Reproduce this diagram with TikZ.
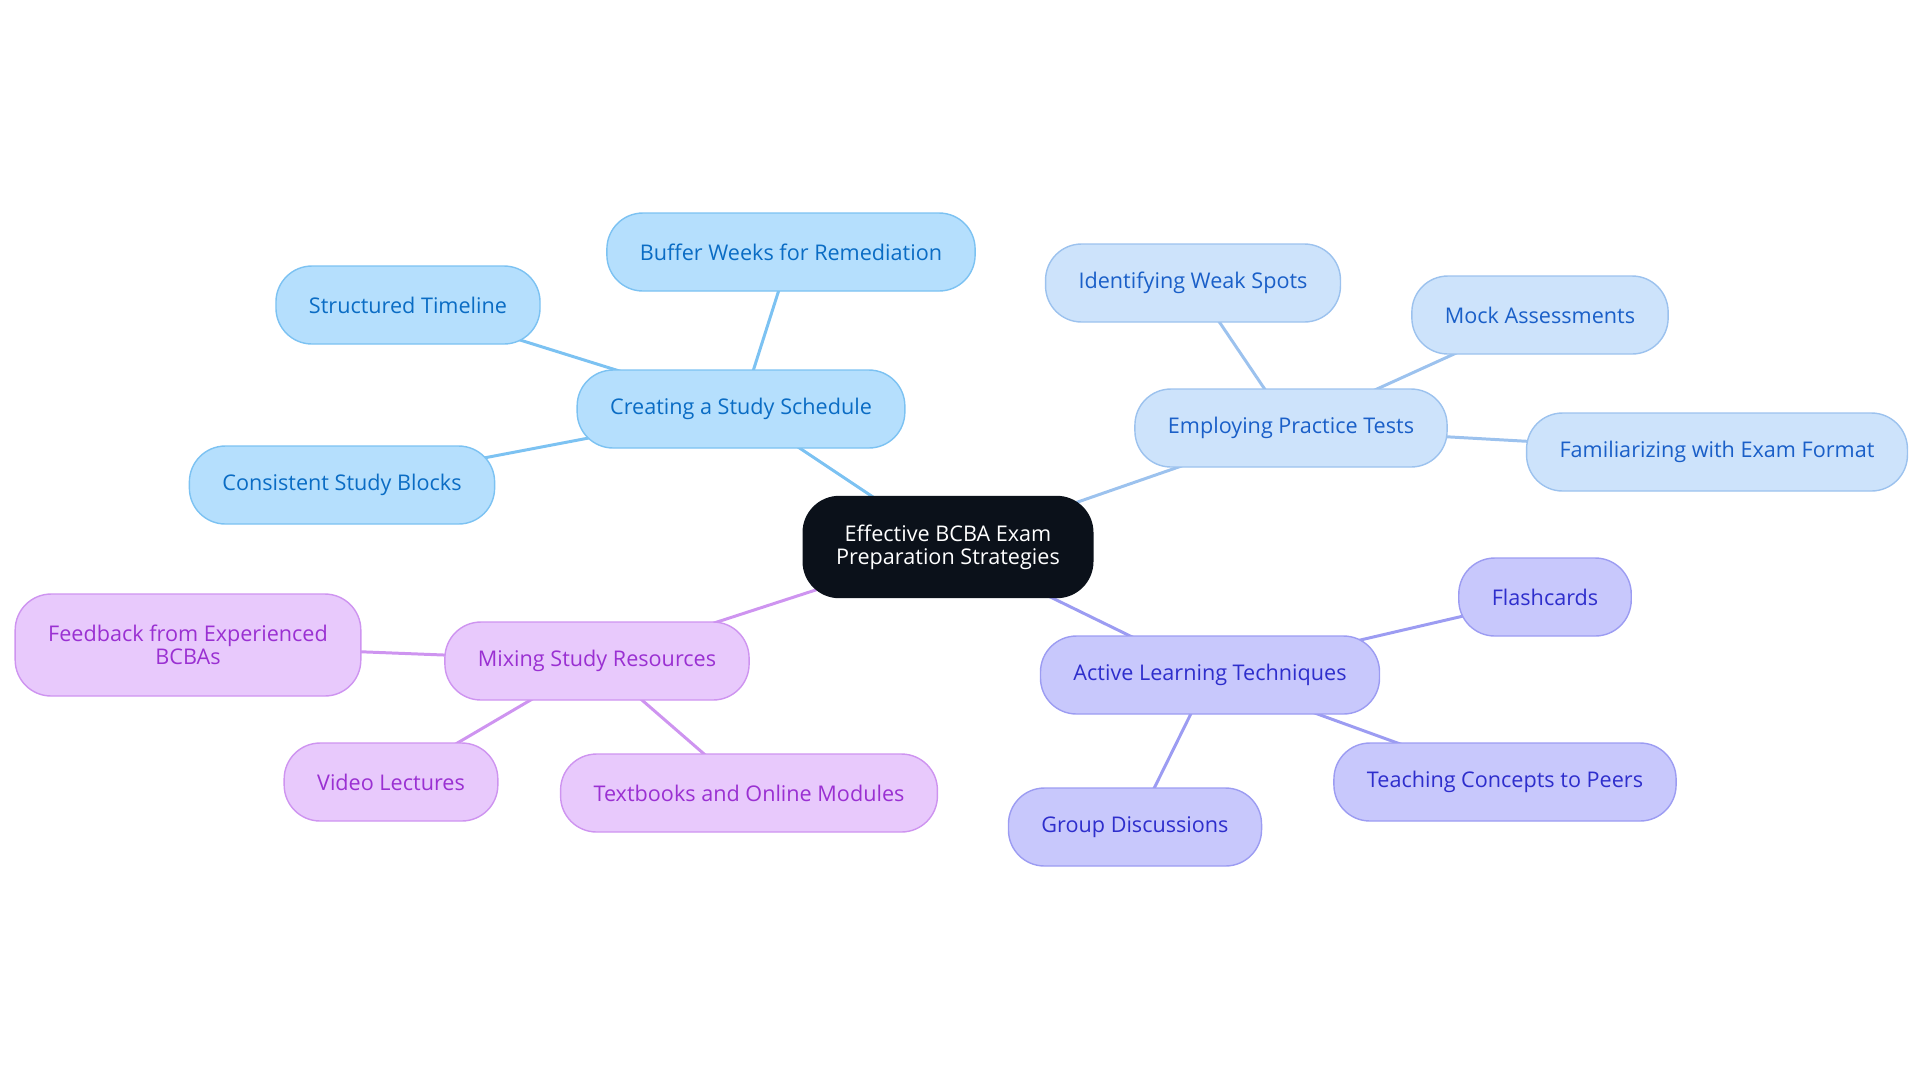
\documentclass[tikz,border=0pt]{standalone}
\usepackage{fontspec}
\setmainfont{Open Sans}
\usepackage{xcolor}
\usetikzlibrary{backgrounds}

\definecolor{rootfill}{HTML}{0B111A}
\definecolor{schedfill}{HTML}{B5DFFD}
\definecolor{schedline}{HTML}{7CC2F2}
\definecolor{schedtext}{HTML}{0A6CC4}
\definecolor{testfill}{HTML}{CDE3FB}
\definecolor{testline}{HTML}{9CC2EE}
\definecolor{testtext}{HTML}{1A5FC8}
\definecolor{activefill}{HTML}{C8C8FC}
\definecolor{activeline}{HTML}{9C9CF2}
\definecolor{activetext}{HTML}{2E2ECC}
\definecolor{mixfill}{HTML}{E8C9FC}
\definecolor{mixline}{HTML}{CE94F0}
\definecolor{mixtext}{HTML}{9A30D2}

\begin{document}
\begin{tikzpicture}[x=0.02cm,y=-0.02cm,
    pill/.style={rounded corners=0.72cm, minimum height=1.56cm, inner xsep=0.66cm,
      line width=0.8pt, align=center, font=\fontsize{12.3}{13.3}\selectfont},
    root/.style={pill, fill=rootfill, draw=rootfill, text=white, minimum height=2.02cm},
    sched/.style={pill, fill=schedfill, draw=schedline, text=schedtext},
    test/.style={pill, fill=testfill, draw=testline, text=testtext},
    active/.style={pill, fill=activefill, draw=activeline, text=activetext},
    mix/.style={pill, fill=mixfill, draw=mixline, text=mixtext},
    link/.style={line width=1.7pt}]

    \useasboundingbox (0,0) rectangle (1920,1083);

    % Central idea
    \node[root] (root) at (948,547) {Effective BCBA Exam\\Preparation Strategies};

    % Study schedule branch
    \node[sched] (sched) at (741,409) {Creating a Study Schedule};
    \node[sched] (buffer) at (791,252) {Buffer Weeks for Remediation};
    \node[sched] (timeline) at (408,305) {Structured Timeline};
    \node[sched] (blocks) at (342,485) {Consistent Study Blocks};

    % Practice tests branch
    \node[test] (tests) at (1291,428) {Employing Practice Tests};
    \node[test] (weak) at (1193,283) {Identifying Weak Spots};
    \node[test] (mock) at (1540,315) {Mock Assessments};
    \node[test] (format) at (1717,452) {Familiarizing with Exam Format};

    % Active learning branch
    \node[active] (active) at (1210,675) {Active Learning Techniques};
    \node[active] (cards) at (1545,597) {Flashcards};
    \node[active] (peers) at (1505,782) {Teaching Concepts to Peers};
    \node[active] (group) at (1135,827) {Group Discussions};

    % Study resources branch
    \node[mix] (mix) at (597,661) {Mixing Study Resources};
    \node[mix, minimum height=2.04cm] (feedback) at (188,645) {Feedback from Experienced\\BCBAs};
    \node[mix] (video) at (391,782) {Video Lectures};
    \node[mix] (books) at (749,793) {Textbooks and Online Modules};

    % Connections, behind the nodes
    \begin{scope}[on background layer]
      \draw[link, schedline] (root.center) -- (sched.center);
      \draw[link, schedline] (sched.center) -- (buffer.center);
      \draw[link, schedline] (sched.center) -- (timeline.center);
      \draw[link, schedline] (sched.center) -- (blocks.center);

      \draw[link, testline] (root.center) -- (tests.center);
      \draw[link, testline] (tests.center) -- (weak.center);
      \draw[link, testline] (tests.center) -- (mock.center);
      \draw[link, testline] (tests.center) -- (format.center);

      \draw[link, activeline] (root.center) -- (active.center);
      \draw[link, activeline] (active.center) -- (cards.center);
      \draw[link, activeline] (active.center) -- (peers.center);
      \draw[link, activeline] (active.center) -- (group.center);

      \draw[link, mixline] (root.center) -- (mix.center);
      \draw[link, mixline] (mix.center) -- (feedback.center);
      \draw[link, mixline] (mix.center) -- (video.center);
      \draw[link, mixline] (mix.center) -- (books.center);
    \end{scope}
\end{tikzpicture}
\end{document}
